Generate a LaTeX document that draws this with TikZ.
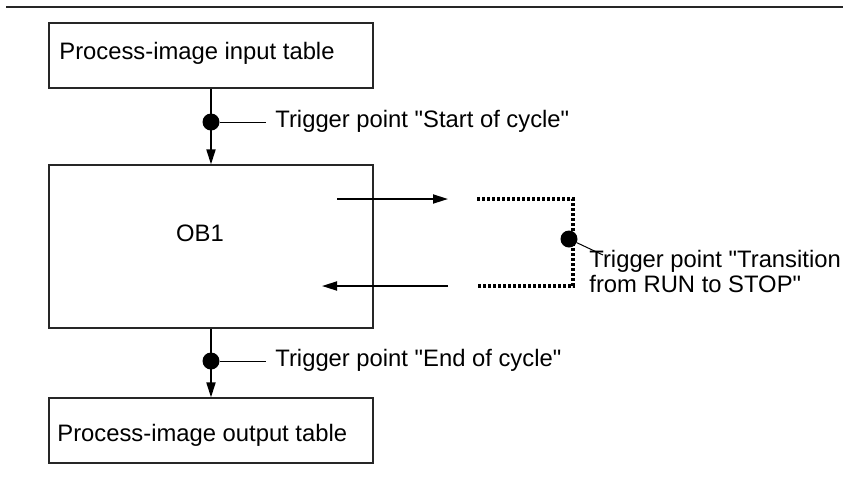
\documentclass[tikz,border=0pt]{standalone}
\usepackage{fontspec}
\setmainfont{Liberation Sans}[Ligatures=TeXOff]
\usetikzlibrary{arrows.meta}
\begin{document}
\begin{tikzpicture}[x=0.5pt,y=-0.5pt,
  box/.style={draw=black!85,line width=0.6pt,minimum width=162pt,inner sep=0pt},
  txt/.style={font=\fontsize{11.9}{12.5}\selectfont,inner sep=0pt,anchor=west},
  lbl/.style={font=\fontsize{11.9}{12.5}\selectfont,inner xsep=4.5pt,inner ysep=0pt,anchor=west},
  flow/.style={line width=0.9pt,-{Triangle[length=7.5pt,width=4.5pt]}},
  tdot/.style={circle,fill=black,inner sep=0pt,minimum size=8.5pt},
  lead/.style={line width=0.5pt},
  dotline/.style={line width=1.7pt,dash pattern=on 1.6pt off 0.9pt}
]
\useasboundingbox (0,0) rectangle (843,479);
% top rule
\coordinate (h1) at (6,7);
\coordinate (h2) at (843,7);
\draw[line width=1pt,black!85] (h1) -- (h2);
% boxes
\node[box,minimum height=32.5pt] (inbox) at (211,55.5) {};
\node[txt] (intext) at (59,53) {Process-image input table};
\node[box,minimum height=81.5pt] (ob1) at (211,246.5) {};
\node[font=\fontsize{11.9}{12.5}\selectfont,inner sep=0pt] (obtext) at (200,233) {OB1};
\node[box,minimum height=32.5pt] (outbox) at (211,430.5) {};
\node[txt] (outtext) at (57,435) {Process-image output table};
% vertical flows
\draw[flow] (inbox.south) -- (ob1.north);
\draw[flow] (ob1.south) -- (outbox.north);
% trigger start
\node[tdot] (d1) at (211,122) {};
\node[lbl] (t1) at (266,121) {Trigger point "Start of cycle"};
\draw[lead] (d1) -- (t1.west |- d1);
% trigger end
\node[tdot] (d2) at (211,361) {};
\node[lbl] (t2) at (266,360) {Trigger point "End of cycle"};
\draw[lead] (d2) -- (t2.west |- d2);
% horizontal arrows
\coordinate (r1) at (337,199);
\coordinate (r2) at (448,199);
\coordinate (l1) at (448,286);
\coordinate (l2) at (322,286);
\draw[flow] (r1) -- (r2);
\draw[flow] (l1) -- (l2);
% dotted bracket
\coordinate (b1) at (477,199);
\coordinate (b2) at (573,199);
\coordinate (b3) at (573,286);
\coordinate (b4) at (477,286);
\draw[dotline] (b1) -- (b2) -- (b3) -- (b4);
% transition trigger
\node[tdot] (d3) at (569,239) {};
\node[font=\fontsize{11.9}{12.5}\selectfont,inner sep=0pt,anchor=north west,align=left] (t3) at (589,250) {Trigger point "Transition\\from RUN to STOP"};
\coordinate (c3) at (603,255);
\draw[lead] (d3) -- (c3);
\end{tikzpicture}
\end{document}
